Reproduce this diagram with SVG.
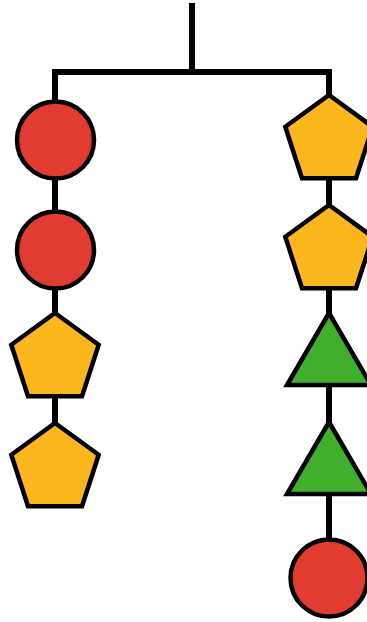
<svg xmlns="http://www.w3.org/2000/svg" width="367" height="622" viewBox="0 0 367 622">
<style>
.c{stroke:#000;stroke-width:6;fill:none;stroke-linecap:square}
.s{stroke:#000;stroke-width:4.5;stroke-linejoin:miter}
.red{fill:#E13C32}
.org{fill:#FDB71E}
.grn{fill:#40AF2C}
</style>
<defs>
<polygon id="pent" points="0,-46 43.7,-14.2 27,37.2 -27,37.2 -43.7,-14.2"/>
<polygon id="tri" points="0,-46 42,26 -42,26"/>
</defs>
<rect width="367" height="622" fill="#fff"/>
<g id="connectors">
<path class="c" d="M192,6V72M55,72H329M55,72V140M55,140V250M55,250V359M55,359V469M329,72V141M329,141V251M329,251V359M329,359V469M329,469V578"/>
</g>
<g id="n1"><circle class="s red" cx="55.5" cy="140" r="38.5"/></g>
<g id="n2"><circle class="s red" cx="55.5" cy="250" r="38.5"/></g>
<g id="n3"><use href="#pent" class="s org" transform="translate(55,359)"/></g>
<g id="n4"><use href="#pent" class="s org" transform="translate(55,469)"/></g>
<g id="n5"><use href="#pent" class="s org" transform="translate(329,141)"/></g>
<g id="n6"><use href="#pent" class="s org" transform="translate(329,251)"/></g>
<g id="n7"><use href="#tri" class="s grn" transform="translate(329,359)"/></g>
<g id="n8"><use href="#tri" class="s grn" transform="translate(329,468)"/></g>
<g id="n9"><circle class="s red" cx="329" cy="578" r="38.5"/></g>
</svg>
